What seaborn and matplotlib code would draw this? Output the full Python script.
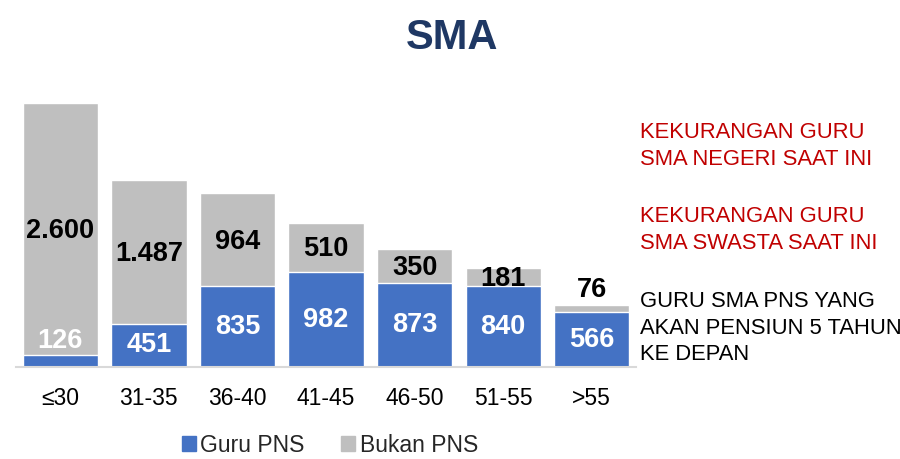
import seaborn as sns
import matplotlib.pyplot as plt
from matplotlib.patches import Patch

# data
kelompok_usia = ["≤30", "31-35", "36-40", "41-45", "46-50", "51-55", ">55"]
guru_pns = [126, 451, 835, 982, 873, 840, 566]
bukan_pns = [2600, 1487, 964, 510, 350, 181, 76]

total = [a + b for a, b in zip(guru_pns, bukan_pns)]

BIRU = "#4472C4"
ABU = "#BFBFBF"

sns.set_theme(style="white")
plt.rcParams["font.family"] = ["Liberation Sans", "DejaVu Sans"]

fig = plt.figure(figsize=(9, 4.59), dpi=100)
ax = fig.add_axes([16 / 900, 0.2, 620 / 900, 0.582])

# bar abu-abu = total, bar biru di depannya
sns.barplot(x=kelompok_usia, y=total, color=ABU, width=0.85, ax=ax, saturation=1)
sns.barplot(x=kelompok_usia, y=guru_pns, color=BIRU, width=0.85, ax=ax, saturation=1)

ax.set_ylim(0, 2760)
ax.set_xlim(-0.5, 6.5)
ax.set_yticks([])
ax.set_ylabel("")
sns.despine(ax=ax, left=True)
ax.spines["bottom"].set_color("#D9D9D9")
ax.spines["bottom"].set_linewidth(1.5)
ax.tick_params(axis="x", length=0, labelsize=16.5, pad=14, colors="#000000")

def fmt(v):
    return f"{v:,}".replace(",", ".")

FS = 19.5
min_seg = 170
for i in range(len(kelompok_usia)):
    p, b = guru_pns[i], bukan_pns[i]
    # label guru PNS
    if p < min_seg:
        ax.text(i, p + 10, fmt(p), ha="center", va="bottom", color="white",
                fontsize=FS, fontweight="bold")
    else:
        ax.text(i, p / 2, fmt(p), ha="center", va="center", color="white",
                fontsize=FS, fontweight="bold")
    # label bukan PNS
    if b < 120:
        ax.text(i, p + b + 20, fmt(b), ha="center", va="bottom", color="black",
                fontsize=FS, fontweight="bold")
    else:
        ax.text(i, p + b / 2 - 20, fmt(b), ha="center", va="center", color="black",
                fontsize=FS, fontweight="bold")

fig.text(0.502, 0.917, "SMA", ha="center", va="center", fontsize=30,
         fontweight="bold", color="#1F3864")

merah = "#C00000"
fig.text(640 / 900, 1 - 146 / 459, "KEKURANGAN GURU\nSMA NEGERI SAAT INI",
         ha="left", va="center", fontsize=15.8, color=merah, linespacing=1.33)
fig.text(640 / 900, 1 - 230 / 459, "KEKURANGAN GURU\nSMA SWASTA SAAT INI",
         ha="left", va="center", fontsize=15.8, color=merah, linespacing=1.33)
fig.text(640 / 900, 1 - 328 / 459, "GURU SMA PNS YANG\nAKAN PENSIUN 5 TAHUN\nKE DEPAN",
         ha="left", va="center", fontsize=15.8, color="black", linespacing=1.33)

handles = [Patch(color=BIRU, label="Guru PNS"), Patch(color=ABU, label="Bukan PNS")]
fig.legend(handles=handles, loc="center", bbox_to_anchor=(330 / 900, 1 - 445 / 459),
           ncol=2, frameon=False, fontsize=16.5, handlelength=0.6, handleheight=0.6,
           handletextpad=0.2, columnspacing=1.6)

fig.savefig("out.png", dpi=100)
